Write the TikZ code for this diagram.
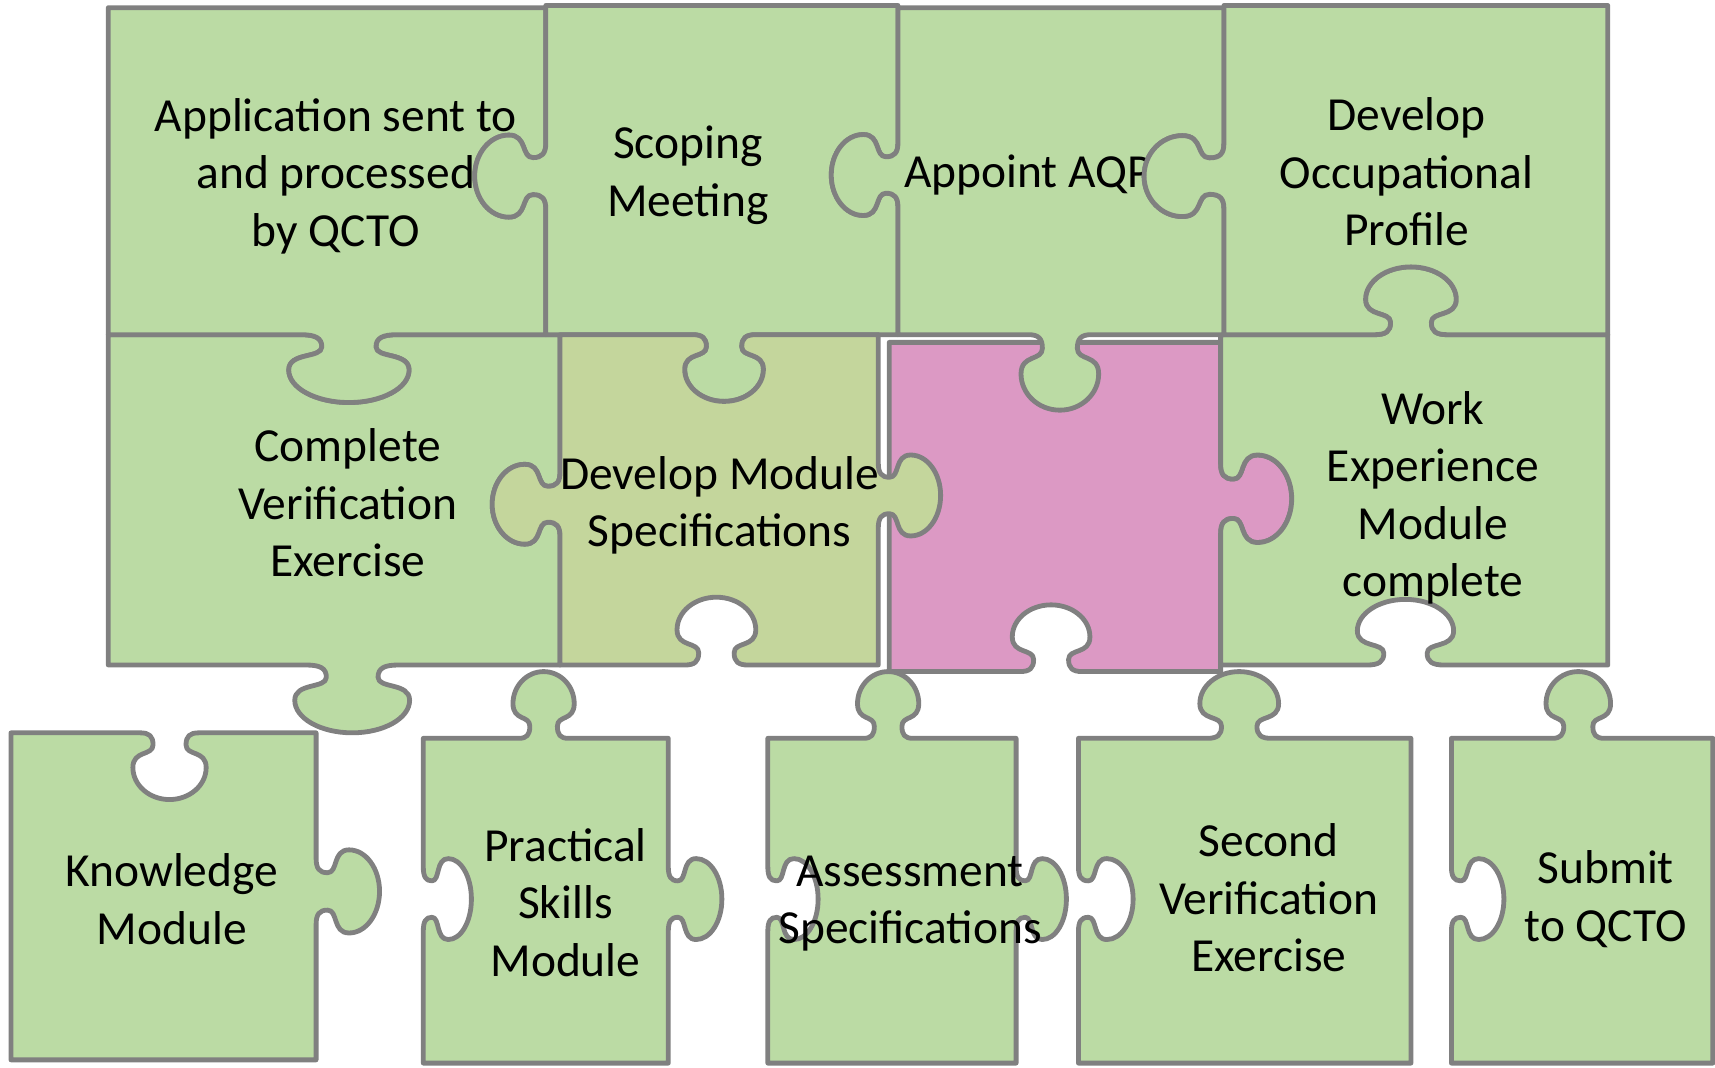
\documentclass[tikz,border=0pt]{standalone}
\usepackage{fontspec}
\setmainfont{Carlito}
\definecolor{pgreen}{RGB}{187,219,164}
\definecolor{polive}{RGB}{196,214,156}
\definecolor{ppink}{RGB}{220,153,196}
\definecolor{pedge}{RGB}{128,128,128}
\tikzset{
 knob/.style n args={8}{insert path={
  -- ({#1-0.8*(#7)*(#3)},{#2-0.8*(#7)*(#4)})
  .. controls ({#1-0.555*(#7)*(#3)},{#2-0.555*(#7)*(#4)})
          and ({#1-0.45*(#7)*(#3)+0.05*(#8)*(#5)},{#2-0.45*(#7)*(#4)+0.05*(#8)*(#6)})
  .. ({#1-0.45*(#7)*(#3)+0.18*(#8)*(#5)},{#2-0.45*(#7)*(#4)+0.18*(#8)*(#6)})
  .. controls ({#1-0.45*(#7)*(#3)+0.35*(#8)*(#5)},{#2-0.45*(#7)*(#4)+0.35*(#8)*(#6)})
          and ({#1-(#7)*(#3)+0.256*(#8)*(#5)},{#2-(#7)*(#4)+0.256*(#8)*(#6)})
  .. ({#1-(#7)*(#3)+0.52*(#8)*(#5)},{#2-(#7)*(#4)+0.52*(#8)*(#6)})
  .. controls ({#1-(#7)*(#3)+0.785*(#8)*(#5)},{#2-(#7)*(#4)+0.785*(#8)*(#6)})
          and ({#1-0.552*(#7)*(#3)+(#8)*(#5)},{#2-0.552*(#7)*(#4)+(#8)*(#6)})
  .. ({#1+(#8)*(#5)},{#2+(#8)*(#6)})
  .. controls ({#1+0.552*(#7)*(#3)+(#8)*(#5)},{#2+0.552*(#7)*(#4)+(#8)*(#6)})
          and ({#1+(#7)*(#3)+0.785*(#8)*(#5)},{#2+(#7)*(#4)+0.785*(#8)*(#6)})
  .. ({#1+(#7)*(#3)+0.52*(#8)*(#5)},{#2+(#7)*(#4)+0.52*(#8)*(#6)})
  .. controls ({#1+(#7)*(#3)+0.256*(#8)*(#5)},{#2+(#7)*(#4)+0.256*(#8)*(#6)})
          and ({#1+0.45*(#7)*(#3)+0.35*(#8)*(#5)},{#2+0.45*(#7)*(#4)+0.35*(#8)*(#6)})
  .. ({#1+0.45*(#7)*(#3)+0.18*(#8)*(#5)},{#2+0.45*(#7)*(#4)+0.18*(#8)*(#6)})
  .. controls ({#1+0.45*(#7)*(#3)+0.05*(#8)*(#5)},{#2+0.45*(#7)*(#4)+0.05*(#8)*(#6)})
          and ({#1+0.555*(#7)*(#3)},{#2+0.555*(#7)*(#4)})
  .. ({#1+0.8*(#7)*(#3)},{#2+0.8*(#7)*(#4)})
 }},
 piece/.style={draw=pedge, line width=2.2pt, line join=round},
 lbl/.style={align=center, inner sep=0pt, text=black, font=\fontsize{21.7}{26.3}\selectfont}
}
\begin{document}
\begin{tikzpicture}[x=0.5pt,y=-0.5pt]
\useasboundingbox (0,0) rectangle (1568,976);

% Complete Verification Exercise
\path[piece,fill=pgreen] (99,306) [knob={319}{306}{1}{0}{0}{1}{55}{62}] -- (512,306)
  [knob={512}{461}{0}{1}{-1}{0}{36.5}{62}] -- (512,608)
  [knob={322}{608}{-1}{0}{0}{1}{52.5}{62}] -- (99,608) -- cycle;
\node[lbl] (tcve) at (318,460) {Complete\\Verification\\Exercise};

% pink piece
\path[piece,fill=ppink] (813,313) -- (1116,313)
  [knob={1116}{456}{0}{1}{1}{0}{40}{65}] -- (1116,614)
  [knob={961}{614}{-1}{0}{0}{-1}{35.5}{61}] -- (813,614) -- cycle;

% Work Experience
\path[piece,fill=pgreen] (1116,306) [knob={1290}{306}{1}{0}{0}{-1}{41.5}{62}] -- (1470,306) -- (1470,608)
  [knob={1285}{608}{-1}{0}{0}{-1}{44}{60}] -- (1116,608)
  [knob={1116}{456}{0}{-1}{1}{0}{40}{65}] -- cycle;
\node[lbl] (twe) at (1310,455) {Work\\Experience\\Module\\complete};

% Application
\path[piece,fill=pgreen] (99,7) -- (499,7)
  [knob={499}{161}{0}{1}{-1}{0}{37.5}{65}] -- (499,306)
  [knob={319}{306}{-1}{0}{0}{1}{55}{62}] -- (99,306) -- cycle;
\node[lbl] (tapp) at (307,161) {Application sent to\\and processed\\by QCTO};

% Scoping Meeting
\path[piece,fill=pgreen] (499,5) -- (821,5)
  [knob={821}{160}{0}{1}{-1}{0}{37}{61}] -- (821,306)
  [knob={662}{306}{-1}{0}{0}{1}{36}{61}] -- (499,306)
  [knob={499}{161}{0}{-1}{-1}{0}{37.5}{65}] -- cycle;
\node[lbl] (tsm) at (629,160) {Scoping\\Meeting};

% Develop Module Specifications
\path[piece,fill=polive] (512,306) [knob={662}{306}{1}{0}{0}{1}{36}{61}] -- (803,306)
  [knob={803}{453}{0}{1}{1}{0}{37}{57}] -- (803,608)
  [knob={655}{608}{-1}{0}{0}{-1}{36}{62}] -- (512,608)
  [knob={512}{461}{0}{-1}{-1}{0}{36.5}{62}] -- cycle;
\node[lbl] (tdms) at (658,462) {Develop Module\\Specifications};

% Appoint AQP
\path[piece,fill=pgreen] (821,7) -- (1119,7)
  [knob={1119}{161}{0}{1}{-1}{0}{37}{73}] -- (1119,306)
  [knob={969}{306}{-1}{0}{0}{1}{35.5}{69}] -- (821,306)
  [knob={821}{160}{0}{-1}{-1}{0}{37}{61}] -- cycle;
\node[lbl] (taqp) at (940,160) {Appoint AQP};

% Develop Occupational Profile
\path[piece,fill=pgreen] (1119,5) -- (1470,5) -- (1470,306)
  [knob={1290}{306}{-1}{0}{0}{-1}{41.5}{62}] -- (1119,306)
  [knob={1119}{161}{0}{-1}{-1}{0}{37}{73}] -- cycle;
\node[lbl] (tdop) at (1286,157) {Develop\\Occupational\\Profile};

% Knowledge Module
\path[piece,fill=pgreen] (10,670) [knob={155}{670}{1}{0}{0}{1}{33.5}{61}] -- (289,670)
  [knob={289}{815}{0}{1}{1}{0}{38}{58}] -- (289,969) -- (10,969) -- cycle;
\node[lbl] (tkm) at (157,822) {Knowledge\\Module};

% Practical Skills Module
\path[piece,fill=pgreen] (387,675) [knob={497}{675}{1}{0}{0}{-1}{28}{61}] -- (611,675)
  [knob={611}{822}{0}{1}{1}{0}{37}{49}] -- (611,972) -- (387,972)
  [knob={387}{822}{0}{-1}{1}{0}{37}{44}] -- cycle;
\node[lbl] (tpsm) at (517,825) {Practical\\Skills\\Module};

% Assessment Specifications
\path[piece,fill=pgreen] (702,675) [knob={812}{675}{1}{0}{0}{-1}{28}{61}] -- (929,675)
  [knob={929}{822}{0}{1}{1}{0}{37}{46}] -- (929,972) -- (702,972)
  [knob={702}{822}{0}{-1}{1}{0}{37}{46}] -- cycle;
\node[lbl] (tas) at (832,826) {Assessment\\Specifications};

% Second Verification Exercise
\path[piece,fill=pgreen] (986,675) [knob={1133}{675}{1}{0}{0}{-1}{36}{61}] -- (1290,675)
  -- (1290,972) -- (986,972)
  [knob={986}{822}{0}{-1}{1}{0}{37}{50}] -- cycle;
\node[lbl] (tsve) at (1160,821) {Second\\Verification\\Exercise};

% Submit to QCTO
\path[piece,fill=pgreen] (1327,675) [knob={1443}{675}{1}{0}{0}{-1}{29.5}{61}] -- (1566,675)
  -- (1566,972) -- (1327,972)
  [knob={1327}{822}{0}{-1}{1}{0}{37}{48}] -- cycle;
\node[lbl] (tsq) at (1468,822) {Submit\\to QCTO};
\end{tikzpicture}
\end{document}
